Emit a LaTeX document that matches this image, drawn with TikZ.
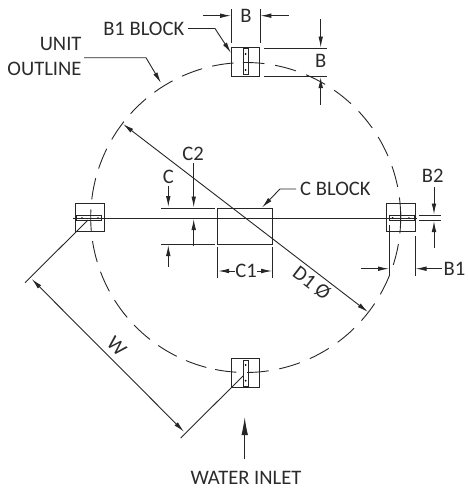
\documentclass[tikz,border=0pt]{standalone}
\usepackage{fontspec}
\setmainfont{Carlito}
\usetikzlibrary{arrows.meta}
\definecolor{txt}{gray}{0.17}
\tikzset{
  lbl/.style={font=\fontsize{20.6}{20.6}\selectfont,text=txt,inner sep=0pt},
  dimline/.style={line width=0.9pt,black!85},
  arr/.style={dimline,-{Latex[length=11pt,width=4.6pt]}},
  blockbox/.style={draw=black!85,line width=1pt,minimum width=28.5pt,minimum height=28.5pt,inner sep=0pt},
  slotv/.style={draw=black!85,line width=1pt,minimum width=5.4pt,minimum height=26pt,inner sep=0pt},
  sloth/.style={draw=black!85,line width=1pt,minimum width=25pt,minimum height=5.4pt,inner sep=0pt},
  outline/.style={line width=0.9pt,black!85},
  pin/.style={fill=black,circle,inner sep=0pt,minimum size=2pt}
}
\newcommand{\ringarc}[3]{\draw[outline,dash pattern=on 21.5pt off #3pt] plot[domain=#1:#2,samples=90,smooth] ({245.7+155*cos(\x)},{217.5+155*sin(\x)});}
\begin{document}
\begin{tikzpicture}[x=1pt,y=-1pt]
\useasboundingbox (0,0) rectangle (467,493);
% outline circle
\ringarc{-91}{0.6}{10.8}
\ringarc{-2.1}{101.5}{10.8}
\ringarc{104.7}{194.8}{10.2}
\ringarc{198.4}{265.5}{10.5}
% blocks
\node[blockbox] (bt) at (245.7,62.2) {};
\node[blockbox] (br) at (401,217.5) {};
\node[blockbox] (bl) at (90.2,217.6) {};
\node[blockbox] (bb) at (245.7,373) {};
\node[slotv] (st) at (246,61.5) {};
\node[slotv] (sb) at (246,373) {};
\node[sloth] (sr) at (401.7,218) {};
\node[sloth] (sl) at (89.3,218) {};
\node[pin] (p1) at (245.7,54) {};
\node[pin] (p2) at (245.7,70) {};
\node[pin] (p3) at (245.7,365) {};
\node[pin] (p4) at (245.7,380.7) {};
\node[pin] (p5) at (392.7,218) {};
\node[pin] (p6) at (409,218) {};
\node[pin] (p7) at (82,218) {};
\node[pin] (p8) at (98,218) {};
% C block
\node[draw=black!85,line width=1pt,minimum width=55pt,minimum height=35.7pt,inner sep=0pt] (cb) at (245.2,226.2) {};
% centre line
\coordinate (cl1) at (73,218);
\coordinate (cl2) at (417,218);
\draw[dimline] (cl1) -- (cl2);
% D1
\coordinate (d1a) at (123,124);
\coordinate (d1b) at (368,312);
\draw[dimline,{Latex[length=11pt,width=4.6pt]}-{Latex[length=11pt,width=4.6pt]}] (d1a) -- (d1b);
\node[lbl,rotate=-37.5] (d1t) at (311.7,283) {D1 Ø};
% W
\coordinate (wa) at (31.7,279);
\coordinate (wb) at (184,431.7);
\draw[dimline,{Latex[length=11pt,width=4.6pt]}-{Latex[length=11pt,width=4.6pt]}] (wa) -- (wb);
\node[lbl,rotate=-45] (wt) at (116.7,346) {W};
\coordinate (we1a) at (88,220); \coordinate (we1b) at (25,282.7);
\coordinate (we2a) at (243,376); \coordinate (we2b) at (180.7,438);
\draw[dimline] (we1a) -- (we1b);
\draw[dimline] (we2a) -- (we2b);
% labels
\node[lbl,anchor=east] (unit) at (81.7,44) {UNIT};
\node[lbl,anchor=east] (outl) at (81.7,69) {OUTLINE};
\node[lbl,anchor=east] (b1b) at (184.5,28.5) {B1 BLOCK};
\node[lbl] (tb) at (246,16) {B};
\node[lbl] (rb) at (320.7,61) {B};
\node[lbl] (c2) at (193,154) {C2};
\node[lbl] (ct) at (168.3,176.7) {C};
\node[lbl] (c1) at (246,271) {C1};
\node[lbl,anchor=west] (cbl) at (300,189) {C BLOCK};
\node[lbl] (b2) at (432.7,176) {B2};
\node[lbl,anchor=east] (b1) at (465.5,269) {B1};
\node[lbl] (wi) at (246,477.5) {WATER INLET};
% leaders
\coordinate (l1a) at (84,57.7); \coordinate (l1b) at (146,57.7); \coordinate (l1c) at (161,83);
\draw[dimline,-{Latex[length=11pt,width=4.6pt]}] (l1a) -- (l1b) -- (l1c);
\coordinate (l2a) at (188,28.5); \coordinate (l2b) at (215,28.5); \coordinate (l2c) at (231,53);
\draw[dimline,-{Latex[length=11pt,width=4.6pt]}] (l2a) -- (l2b) -- (l2c);
\coordinate (l3a) at (296,189); \coordinate (l3b) at (280,189); \coordinate (l3c) at (262,207.5);
\draw[dimline,-{Latex[length=11pt,width=4.6pt]}] (l3a) -- (l3b) -- (l3c);
% top B
\coordinate (e1a) at (231.4,9); \coordinate (e1b) at (231.4,43);
\coordinate (e2a) at (260,9); \coordinate (e2b) at (260,43);
\draw[dimline] (e1a) -- (e1b);
\draw[dimline] (e2a) -- (e2b);
\coordinate (a1s) at (203,15.7); \coordinate (a1t) at (231,15.7);
\coordinate (a2s) at (288.7,15.7); \coordinate (a2t) at (260.4,15.7);
\draw[arr] (a1s) -- (a1t);
\draw[arr] (a2s) -- (a2t);
% right B
\coordinate (e3a) at (264,48); \coordinate (e3b) at (326.7,48);
\coordinate (e4a) at (264,76.4); \coordinate (e4b) at (326.7,76.4);
\draw[dimline] (e3a) -- (e3b);
\draw[dimline] (e4a) -- (e4b);
\coordinate (a3s) at (320.7,19); \coordinate (a3t) at (320.7,47.5);
\coordinate (a4s) at (320.7,104.7); \coordinate (a4t) at (320.7,77);
\draw[arr] (a3s) -- (a3t);
\draw[arr] (a4s) -- (a4t);
% C
\coordinate (e5a) at (161,208.3); \coordinate (e5b) at (215,208.3);
\coordinate (e6a) at (161,244); \coordinate (e6b) at (215,244);
\draw[dimline] (e5a) -- (e5b);
\draw[dimline] (e6a) -- (e6b);
\coordinate (a5s) at (168.3,186); \coordinate (a5t) at (168.3,207);
\coordinate (a6s) at (168.3,266.7); \coordinate (a6t) at (168.3,245);
\draw[arr] (a5s) -- (a5t);
\draw[arr] (a6s) -- (a6t);
% C2
\coordinate (a7s) at (193.7,163); \coordinate (a7t) at (193.7,207.5);
\coordinate (a8s) at (193.7,246); \coordinate (a8t) at (193.7,219);
\draw[arr] (a7s) -- (a7t);
\draw[arr] (a8s) -- (a8t);
% C1
\coordinate (e7a) at (217.7,246.7); \coordinate (e7b) at (217.7,278);
\coordinate (e8a) at (272.7,246.7); \coordinate (e8b) at (272.7,278);
\draw[dimline] (e7a) -- (e7b);
\draw[dimline] (e8a) -- (e8b);
\coordinate (a13t) at (218.2,271); \coordinate (a14t) at (272.2,271);
\draw[arr] (c1.west) -- (a13t);
\draw[arr] (c1.east) -- (a14t);
% B2
\coordinate (e9a) at (419.3,215); \coordinate (e9b) at (440.7,215);
\coordinate (e10a) at (419.3,220.3); \coordinate (e10b) at (440.7,220.3);
\draw[dimline] (e9a) -- (e9b);
\draw[dimline] (e10a) -- (e10b);
\coordinate (a9s) at (434,186.7); \coordinate (a9t) at (434,214.5);
\coordinate (a10s) at (434,248); \coordinate (a10t) at (434,221);
\draw[arr] (a9s) -- (a9t);
\draw[arr] (a10s) -- (a10t);
% B1
\coordinate (e11a) at (389.3,225); \coordinate (e11b) at (389.3,275);
\coordinate (e12a) at (415,236); \coordinate (e12b) at (415,276);
\draw[dimline] (e11a) -- (e11b);
\draw[dimline] (e12a) -- (e12b);
\coordinate (a11s) at (360.7,268.7); \coordinate (a11t) at (389,268.7);
\coordinate (a12s) at (441.7,268.7); \coordinate (a12t) at (415.5,268.7);
\draw[arr] (a11s) -- (a11t);
\draw[arr] (a12s) -- (a12t);
% water inlet
\coordinate (wis) at (244.7,459); \coordinate (wit) at (244.7,417);
\draw[dimline,-{Latex[length=18pt,width=6.5pt]}] (wis) -- (wit);
\end{tikzpicture}
\end{document}
